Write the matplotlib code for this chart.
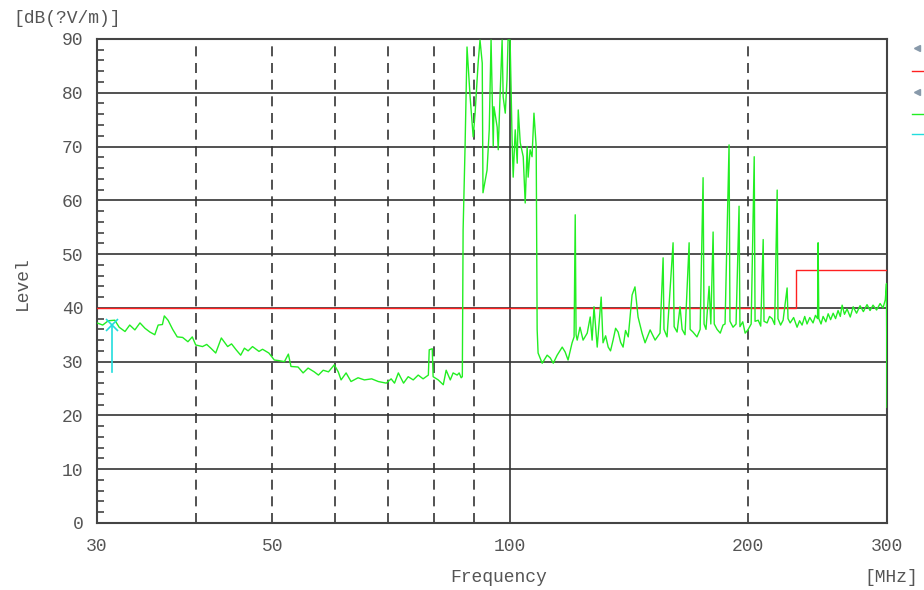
import matplotlib
matplotlib.use("Agg")
import matplotlib.pyplot as plt
from matplotlib.lines import Line2D
from matplotlib.ticker import FixedLocator, NullLocator, MultipleLocator

# measured spectrum, frequency in MHz, level in dB(uV/m)
freq = [
    30.0, 30.5, 31.0, 31.6, 32.0, 32.55, 33.0, 33.5, 34.0, 34.5, 35.0, 35.5,
    35.85, 36.3, 36.5, 36.9, 37.4, 37.9, 38.5, 39.1, 39.6, 40.0, 40.8, 41.3,
    41.8, 42.4, 43.1, 43.9, 44.4, 45.0, 45.6, 46.1, 46.6, 47.2, 48.1, 48.6,
    49.5, 50.3, 50.9, 51.8, 52.4, 52.8, 53.9, 54.7, 55.5, 56.5, 57.2, 58.0,
    58.9, 59.9, 60.6, 61.1, 62.0, 62.9, 64.2, 65.4, 66.8, 68.1, 69.7, 70.7,
    71.4, 72.2, 73.3, 74.3, 75.4, 76.5, 77.6, 78.8, 79.0, 79.7, 79.9, 81.1,
    82.3, 83.0, 84.0, 84.7, 85.7, 86.2, 86.7, 87.0, 87.2, 87.7, 88.2, 89.0,
    89.8, 90.3, 91.1, 91.6, 92.2, 92.4, 93.5, 94.1, 94.6, 95.2, 95.4, 96.3,
    96.6, 97.1, 97.7, 98.0, 98.6, 99.1, 99.4, 100.0, 100.6, 100.9, 101.5, 102.1,
    102.4, 103.0, 103.9, 104.5, 105.1, 105.4, 106.0, 106.6, 107.2, 107.9, 108.2, 108.5,
    109.8, 111.4, 112.4, 113.4, 114.7, 116.4, 117.4, 118.4, 119.8, 120.5, 120.9, 121.2,
    121.6, 122.6, 123.7, 125.2, 126.3, 127.0, 127.7, 128.9, 130.4, 131.1, 132.1, 133.1,
    134.0, 135.0, 136.0, 137.0, 138.0, 139.0, 140.0, 141.1, 142.7, 143.9, 145.2, 146.9,
    148.2, 150.4, 152.6, 154.8, 156.2, 156.6, 158.0, 160.8, 161.3, 162.7, 164.1, 165.1,
    166.5, 168.5, 169.0, 170.4, 172.4, 174.0, 175.5, 176.0, 177.0, 178.6, 179.5, 180.7,
    181.3, 182.8, 184.5, 186.0, 187.1, 189.3, 189.8, 191.5, 193.2, 194.9, 195.4, 197.0,
    198.4, 200.0, 201.9, 203.7, 204.2, 206.1, 207.6, 209.1, 209.6, 211.5, 213.0, 214.6,
    216.2, 217.8, 218.3, 220.0, 221.6, 224.2, 224.8, 226.2, 228.5, 230.8, 232.5, 234.2,
    236.0, 237.6, 239.5, 241.8, 243.5, 245.0, 245.4, 245.9, 247.5, 249.0, 251.0, 252.7,
    254.5, 256.4, 258.2, 260.1, 261.8, 263.2, 265.0, 267.0, 269.5, 271.8, 274.5, 277.3,
    280.0, 283.0, 285.5, 288.0, 291.0, 294.0, 296.5, 298.5, 299.5, 300.0,
]
level = [
    37.2, 36.8, 37.6, 37.7, 36.4, 35.6, 36.8, 35.9, 37.2, 36.2, 35.5, 35.0,
    36.8, 36.9, 38.5, 37.7, 36.0, 34.6, 34.5, 33.7, 34.6, 33.1, 32.8, 33.2,
    32.5, 31.6, 34.4, 32.8, 33.3, 32.2, 31.2, 32.5, 32.0, 32.8, 31.9, 32.3,
    31.6, 30.3, 30.2, 30.0, 31.4, 29.1, 29.0, 27.9, 28.8, 28.1, 27.5, 28.4,
    28.1, 29.4, 28.1, 26.6, 27.9, 26.3, 27.0, 26.6, 26.8, 26.3, 26.0, 26.8,
    26.0, 27.9, 26.0, 27.2, 26.6, 27.5, 26.8, 27.5, 32.2, 32.4, 27.2, 26.6,
    25.7, 28.4, 26.6, 27.9, 27.5, 27.9, 27.0, 27.2, 54.5, 70.0, 88.5, 79.2,
    71.8, 76.2, 85.5, 89.8, 85.5, 61.4, 65.6, 73.1, 89.8, 70.0, 77.4, 73.6,
    69.4, 79.2, 89.8, 79.2, 76.2, 82.4, 89.8, 89.8, 70.7, 64.3, 73.1, 66.9,
    76.8, 70.7, 68.1, 59.5, 70.0, 64.3, 69.4, 68.1, 76.2, 70.0, 36.0, 31.6,
    29.7, 31.2, 30.7, 29.7, 31.2, 32.7, 31.8, 30.3, 33.5, 34.6, 57.3, 35.0,
    34.0, 36.4, 34.0, 35.3, 38.3, 34.0, 40.2, 32.7, 42.0, 33.5, 34.8, 32.7,
    32.0, 34.0, 36.2, 35.5, 33.6, 32.7, 35.8, 34.6, 42.4, 43.9, 38.3, 35.3,
    33.5, 35.9, 34.0, 35.3, 49.3, 36.0, 34.6, 52.1, 36.5, 35.5, 40.2, 36.0,
    35.0, 52.1, 36.0, 35.5, 34.6, 36.0, 64.2, 37.0, 36.0, 44.0, 37.0, 54.1,
    37.0, 36.0, 35.3, 36.8, 37.0, 70.3, 37.5, 36.4, 37.0, 58.9, 36.5, 37.4,
    35.3, 35.9, 37.0, 68.1, 37.5, 37.7, 36.6, 52.7, 37.5, 37.2, 38.4, 38.0,
    36.9, 61.9, 38.0, 36.8, 37.7, 43.7, 38.0, 37.2, 38.2, 36.4, 37.6, 36.8,
    38.4, 37.0, 38.2, 37.2, 38.6, 38.0, 52.1, 38.0, 37.0, 38.4, 37.4, 38.9,
    37.8, 39.0, 38.0, 39.5, 38.4, 40.5, 38.8, 39.8, 38.3, 40.2, 39.0, 40.4,
    39.3, 40.6, 39.5, 40.5, 39.6, 40.8, 40.0, 41.5, 44.5, 21.5,
]

# limit line (step at 230 MHz)
limit_freq = [30, 230, 230, 300]
limit_level = [40, 40, 47, 47]

# marker
marker_freq = 31.3
marker_level = 36.8
marker_floor = 28.0

x_ticks = [30, 50, 100, 200, 300]
dashed_freqs = [40, 50, 60, 70, 80, 90, 200]

txt = "#555555"
font = "Liberation Mono"
plt.rcParams["font.family"] = [font, "DejaVu Sans Mono"]

fig = plt.figure(figsize=(9.24, 5.9), dpi=100)
ax = fig.add_axes([0.105, 0.1136, 0.855, 0.8204])

ax.set_xscale("log")
ax.set_xlim(30, 300)
ax.set_ylim(0, 90)

# grid
for yv in range(10, 90, 10):
    ax.axhline(yv, color="#333333", lw=1.2, zorder=1)
for fv in dashed_freqs:
    ax.axvline(fv, color="#333333", lw=1.2, ls=(0, (6, 4)), zorder=1)
ax.axvline(100, color="#333333", lw=1.2, zorder=1)

ax.plot(limit_freq, limit_level, color="#ff2020", lw=1.0, zorder=3)
ax.plot(freq, level, color="#22ee22", lw=1.0, zorder=4)

ax.plot([marker_freq, marker_freq], [marker_level, marker_floor],
        color="#22dddd", lw=1.2, zorder=5)
ax.plot([marker_freq], [marker_level], marker="x", ms=9, mew=1.2,
        color="#22dddd", zorder=5)

for s in ax.spines.values():
    s.set_color("#444444")
    s.set_linewidth(1.5)

ax.xaxis.set_major_locator(FixedLocator(x_ticks))
ax.xaxis.set_minor_locator(NullLocator())
ax.set_xticklabels([str(t) for t in x_ticks])
ax.yaxis.set_major_locator(MultipleLocator(10))
ax.yaxis.set_minor_locator(MultipleLocator(2))
ax.tick_params(axis="x", which="both", length=0, pad=11, labelsize=13, labelcolor=txt)
ax.tick_params(axis="y", which="major", length=0, pad=10, labelsize=13, labelcolor=txt)
ax.tick_params(axis="y", which="minor", direction="in", length=5, width=1.2,
               color="#444444")

fig.text(0.54, 0.022, "Frequency", ha="center", va="center", fontsize=13, color=txt)
fig.text(0.935, 0.022, "[MHz]", ha="left", va="center", fontsize=13, color=txt)
fig.text(0.015, 0.969, "[dB(?V/m)]", ha="left", va="center", fontsize=13, color=txt)
fig.text(0.024, 0.52, "Level", ha="center", va="center", rotation=90,
         fontsize=13, color=txt)

# clipped legend at right edge
fig.add_artist(Line2D([0.992], [0.919], marker="<", ms=4, color="#8899aa",
                      transform=fig.transFigure))
fig.add_artist(Line2D([0.987, 1.0], [0.880, 0.880], color="#ff2020", lw=1.0,
                      transform=fig.transFigure))
fig.add_artist(Line2D([0.992], [0.844], marker="<", ms=4, color="#8899aa",
                      transform=fig.transFigure))
fig.add_artist(Line2D([0.987, 1.0], [0.807, 0.807], color="#22ee22", lw=1.0,
                      transform=fig.transFigure))
fig.add_artist(Line2D([0.987, 1.0], [0.773, 0.773], color="#22dddd", lw=1.0,
                      transform=fig.transFigure))

fig.savefig("out.png", dpi=100)
